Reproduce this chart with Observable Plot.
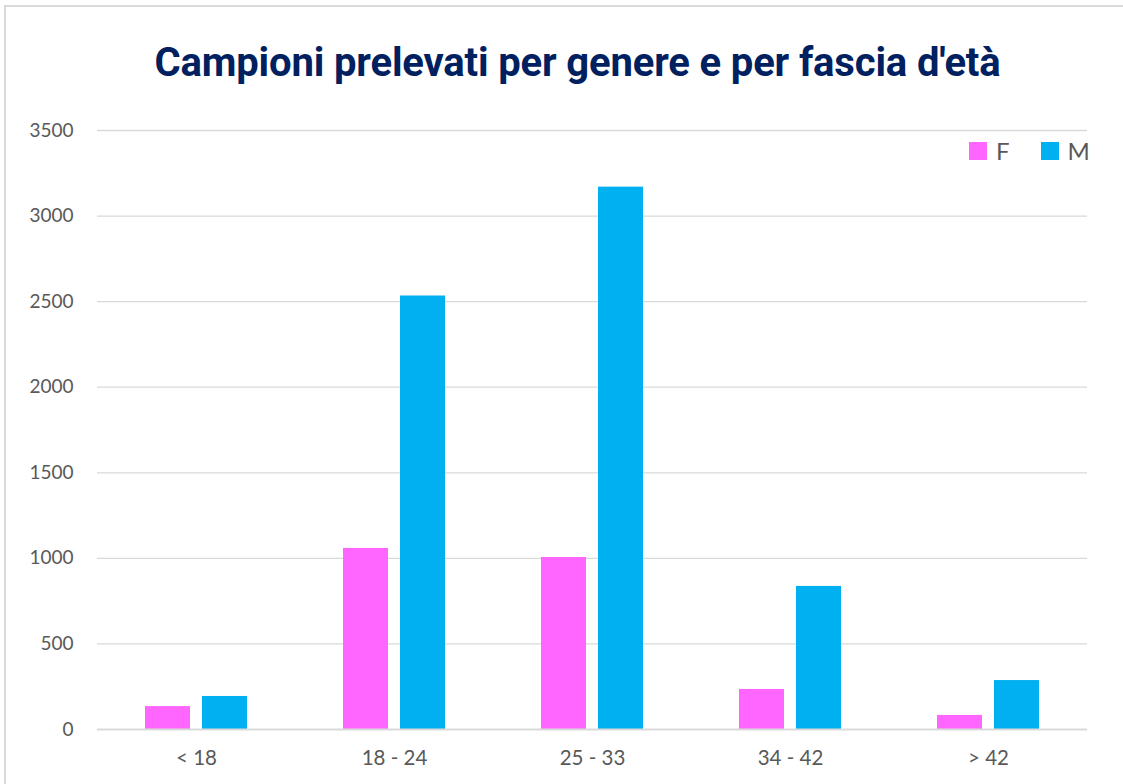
<!DOCTYPE html>
<html>
<head>
<meta charset="utf-8">
<script src="https://cdn.jsdelivr.net/npm/d3@7"></script>
<script src="https://cdn.jsdelivr.net/npm/@observablehq/plot@0.6"></script>
<style>
  html, body { margin: 0; padding: 0; background: #fff; width: 1123px; height: 784px; overflow: hidden; }
  #frame { position: absolute; left: 4px; top: 5px; width: 1130px; height: 800px; border-left: 2px solid #d9d9d9; border-top: 2px solid #d9d9d9; pointer-events: none; }
  #title { position: absolute; left: 0; top: 0; width: 1123px; height: 110px; }
  #title div { position: absolute; left: 16px; width: 1123px; top: 39px; text-align: center; font-family: Roboto, "Open Sans", sans-serif; font-weight: 700; font-size: 40px; line-height: 48px; color: #002060; letter-spacing: -0.15px; }
  #chart { position: absolute; left: 0; top: 110px; }
  #legend { position: absolute; top: 136px; left: 969px; font-family: Lato, "Open Sans", sans-serif; font-size: 24px; color: #595959; display: flex; align-items: center; }
  #legend .sw { width: 18px; height: 18px; display: inline-block; margin-right: 9px; }
  #legend .item { display: flex; align-items: center; margin-right: 31px; }
</style>
</head>
<body>
<div id="title"><div>Campioni prelevati per genere e per fascia d'età</div></div>
<div id="chart"></div>
<div id="legend"></div>
<div id="frame"></div>
<script>
const categories = ["< 18", "18 - 24", "25 - 33", "34 - 42", "> 42"];
const series = ["F", "M"];
const valuesF = [134, 1058, 1005, 234, 82];
const valuesM = [193, 2533, 3169, 836, 286];
const colors = ["#FF66FF", "#00B0F0"];
const yTicks = [0, 500, 1000, 1500, 2000, 2500, 3000, 3500];

const data = [];
categories.forEach((c, i) => {
  data.push({cat: c, sex: "F", value: valuesF[i]});
  data.push({cat: c, sex: "M", value: valuesM[i]});
});

const chart = Plot.plot({
  width: 1123,
  height: 674,
  marginTop: 20,
  marginBottom: 55,
  marginLeft: 97,
  marginRight: 36,
  style: { fontFamily: "Lato, 'Open Sans', sans-serif", fontSize: "19px", color: "#595959", background: "transparent" },
  fx: { domain: categories, padding: 0, label: null, axis: null },
  x: { domain: series, paddingInner: 0.21, paddingOuter: 0.84, axis: null },
  y: { domain: [0, 3500], ticks: yTicks, label: null },
  color: { domain: series, range: colors },
  marks: [
    Plot.gridY(yTicks.filter(d => d > 0), { stroke: "#d9d9d9", strokeOpacity: 1, strokeWidth: 1.3 }),
    Plot.barY(data, { fx: "cat", x: "sex", y: "value", fill: "sex" }),
    Plot.axisY({ ticks: yTicks, tickFormat: d => String(d), tickSize: 0, tickPadding: 24, fontSize: 19, fill: "#595959", label: null }),
    Plot.axisFx({ anchor: "bottom", tickSize: 0, tickPadding: 21, fontSize: 20.5, fill: "#595959", label: null }),
    Plot.ruleY([0], { stroke: "#d9d9d9", strokeWidth: 2 })
  ]
});
document.getElementById("chart").appendChild(chart);

const legend = document.getElementById("legend");
series.forEach((s, i) => {
  const item = document.createElement("span");
  item.className = "item";
  const sw = document.createElement("span");
  sw.className = "sw";
  sw.style.background = colors[i];
  item.appendChild(sw);
  item.appendChild(document.createTextNode(s));
  legend.appendChild(item);
});
</script>
</body>
</html>
